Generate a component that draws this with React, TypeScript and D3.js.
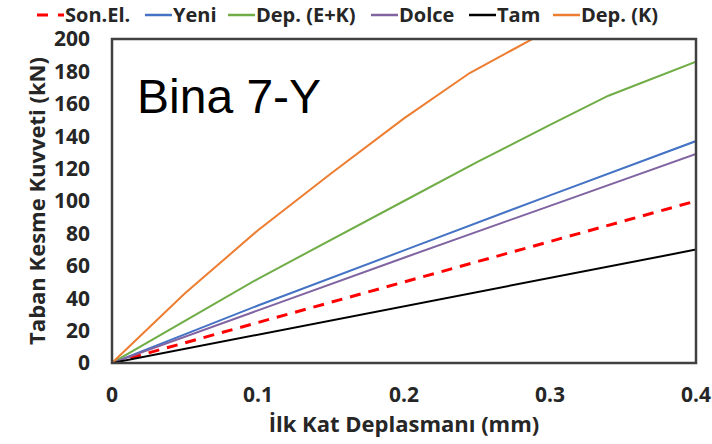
import React from "react";
import * as d3 from "d3";

const xTicks = [0, 0.1, 0.2, 0.3, 0.4];
const yTicks = [0, 20, 40, 60, 80, 100, 120, 140, 160, 180, 200];

const sonElX = [0, 0.4];
const sonElY = [0, 100];
const yeniX = [0, 0.1, 0.2, 0.3, 0.4];
const yeniY = [0, 35.5, 69.5, 103.5, 137];
const depEKX = [0, 0.1, 0.2, 0.25, 0.3, 0.34, 0.4];
const depEKY = [0, 52, 100, 124, 147, 165, 186];
const dolceX = [0, 0.1, 0.2, 0.3, 0.4];
const dolceY = [0, 32.5, 65, 97, 129];
const tamX = [0, 0.4];
const tamY = [0, 70];
const depKX = [0, 0.05, 0.1, 0.15, 0.2, 0.245, 0.29];
const depKY = [0, 43, 82, 117, 151, 179, 201];

const seriesNames = ["Son.El.", "Yeni", "Dep. (E+K)", "Dolce", "Tam", "Dep. (K)"];
const seriesColors = ["#FF0000", "#4472C4", "#70AD47", "#8064A2", "#000000", "#ED7D31"];
const seriesXs = [sonElX, yeniX, depEKX, dolceX, tamX, depKX];
const seriesYs = [sonElY, yeniY, depEKY, dolceY, tamY, depKY];

const legendLineX = [37, 145, 228, 371, 469, 553];

export default function App() {
  const W = 712, H = 444;
  const L = 112, R = 696, T = 39, B = 363;
  const x = d3.scaleLinear().domain([0, 0.4]).range([L, R]);
  const y = d3.scaleLinear().domain([0, 200]).range([B, T]);
  const line = d3.line<[number, number]>().x(d => x(d[0])).y(d => y(d[1]));
  const font = "'Open Sans', sans-serif";

  return (
    <svg width={W} height={H} style={{ position: "absolute", left: 0, top: 0, background: "#fff" }}>
      <defs>
        <clipPath id="plot">
          <rect x={L} y={T} width={R - L} height={B - T} />
        </clipPath>
      </defs>
      <rect x={0} y={0} width={W} height={H} fill="#fff" />
      <g clipPath="url(#plot)">
        {seriesNames.map((n, i) => {
          const pts = seriesXs[i].map((v, j) => [v, seriesYs[i][j]] as [number, number]);
          return (
            <path key={n} d={line(pts) || ""} fill="none" stroke={seriesColors[i]}
              strokeWidth={i === 0 ? 3 : 2} strokeDasharray={i === 0 ? "11,8" : undefined} />
          );
        })}
      </g>
      <rect x={L} y={T} width={R - L} height={B - T} fill="none" stroke="#404040" strokeWidth={2.5} />
      {yTicks.map(t => (
        <text key={t} x={90} y={y(t)} dy="0.35em" textAnchor="end" fontFamily={font}
          fontWeight={700} fontSize={21} fill="#262626">{t}</text>
      ))}
      {xTicks.map(t => (
        <text key={t} x={x(t)} y={402} textAnchor="middle" fontFamily={font}
          fontWeight={700} fontSize={21} fill="#262626">{t === 0 ? "0" : t.toString()}</text>
      ))}
      <text x={(L + R) / 2} y={432} textAnchor="middle" fontFamily={font} fontWeight={700}
        fontSize={22} fill="#262626">İlk Kat Deplasmanı (mm)</text>
      <text transform={`translate(45,${(T + B) / 2}) rotate(-90)`} textAnchor="middle"
        fontFamily={font} fontWeight={700} fontSize={22} fill="#262626">Taban Kesme Kuvveti (kN)</text>
      <text x={137} y={113} fontFamily="'Liberation Sans', Arial, sans-serif" fontSize={48} fill="#000">Bina 7-Y</text>
      {seriesNames.map((n, i) => (
        <g key={n}>
          <line x1={legendLineX[i]} x2={legendLineX[i] + 27} y1={15} y2={15} stroke={seriesColors[i]}
            strokeWidth={i === 0 ? 3 : 2.5} strokeDasharray={i === 0 ? "11,10" : undefined} />
          <text x={legendLineX[i] + 28} y={15} dy="0.35em" fontFamily={font} fontWeight={700}
            fontSize={20} fill="#262626">{n}</text>
        </g>
      ))}
    </svg>
  );
}
